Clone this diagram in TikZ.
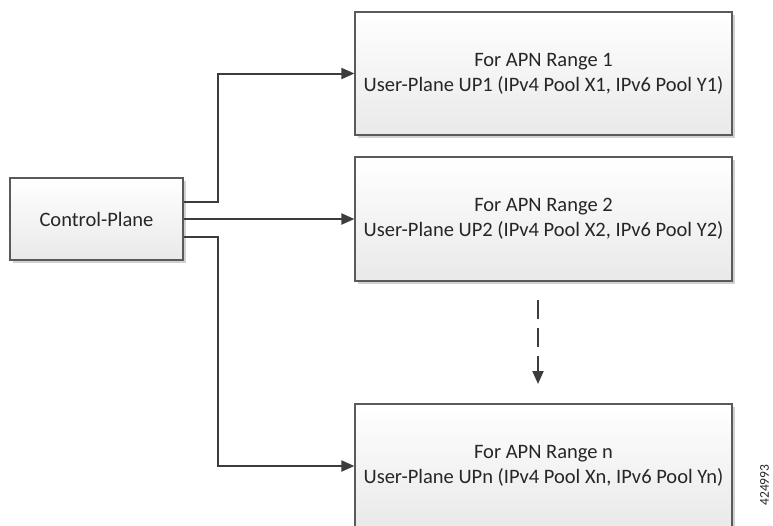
\documentclass[tikz,border=0pt]{standalone}
\usepackage{fontspec}
\setmainfont{Carlito}
\usetikzlibrary{arrows.meta,shadows}
\definecolor{linec}{HTML}{3C3C3C}
\definecolor{boxline}{HTML}{5A5A5A}
\definecolor{boxbot}{HTML}{E9E9E9}
\definecolor{txt}{HTML}{262626}
\tikzset{
  box/.style={draw=boxline, line width=1.2pt, top color=white, bottom color=boxbot,
    drop shadow={shadow xshift=2.5pt, shadow yshift=-2.5pt, fill=black!30, opacity=0.6},
    align=center, text=txt, font=\fontsize{20.5}{25}\selectfont, inner sep=0pt},
  conn/.style={draw=linec, line width=2pt, -{Triangle[length=13pt,width=11pt]}},
}
\begin{document}
\begin{tikzpicture}[x=1pt,y=-1pt]
\useasboundingbox (0,0) rectangle (773,525);
\clip (0,0) rectangle (773,525);
\node[box, minimum width=173pt, minimum height=82pt] (ctrl) at (96.5,219) {Control-Plane};
\node[box, minimum width=377pt, minimum height=123pt] (b1) at (543.5,73.5) {For APN Range 1\\User-Plane UP1 (IPv4 Pool X1, IPv6 Pool Y1)};
\node[box, minimum width=377pt, minimum height=124pt] (b2) at (543.5,219) {For APN Range 2\\User-Plane UP2 (IPv4 Pool X2, IPv6 Pool Y2)};
\node[box, minimum width=377pt, minimum height=124pt] (b3) at (543.5,466) {For APN Range n\\User-Plane UPn (IPv4 Pool Xn, IPv6 Pool Yn)};
\coordinate (d1) at (538,300);
\coordinate (d2) at (538,384);
\draw[conn] ([yshift=17pt]ctrl.east) -- ++(34,0) |- (b1.west);
\draw[conn] (ctrl.east) -- (b2.west);
\draw[conn] ([yshift=-18pt]ctrl.east) -- ++(34,0) |- (b3.west);
\draw[conn, dash pattern=on 19pt off 9pt] (d1) -- (d2);
\node[rotate=90, text=txt, font=\fontsize{13.5}{13.5}\selectfont, inner sep=0pt] (id) at (764.5,485) {424993};
\end{tikzpicture}
\end{document}
